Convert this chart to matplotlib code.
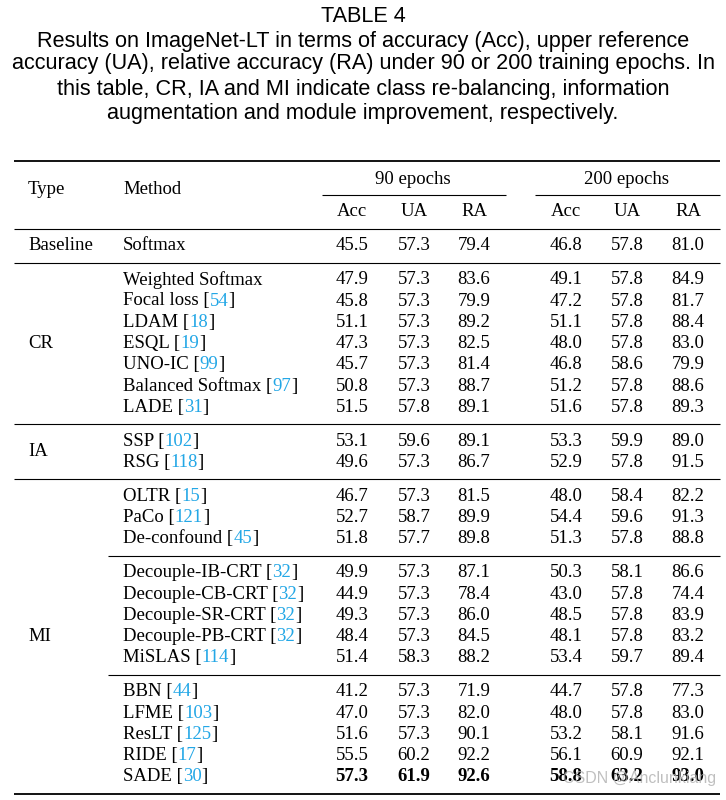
import matplotlib
matplotlib.use('Agg')
from matplotlib import pyplot as plt

# Table data (ImageNet-LT results)
caption = ["TABLE 4",
           "Results on ImageNet-LT in terms of accuracy (Acc), upper reference",
           "accuracy (UA), relative accuracy (RA) under 90 or 200 training epochs. In",
           "this table, CR, IA and MI indicate class re-balancing, information",
           "augmentation and module improvement, respectively."]

methods = ["Softmax",
           "Weighted Softmax", "Focal loss", "LDAM", "ESQL", "UNO-IC", "Balanced Softmax", "LADE",
           "SSP", "RSG",
           "OLTR", "PaCo", "De-confound",
           "Decouple-IB-CRT", "Decouple-CB-CRT", "Decouple-SR-CRT", "Decouple-PB-CRT", "MiSLAS",
           "BBN", "LFME", "ResLT", "RIDE", "SADE"]
refs = ["", "", "54", "18", "19", "99", "97", "31",
        "102", "118",
        "15", "121", "45",
        "32", "32", "32", "32", "114",
        "44", "103", "125", "17", "30"]
acc90 = [45.5, 47.9, 45.8, 51.1, 47.3, 45.7, 50.8, 51.5, 53.1, 49.6, 46.7, 52.7, 51.8,
         49.9, 44.9, 49.3, 48.4, 51.4, 41.2, 47.0, 51.6, 55.5, 57.3]
ua90 = [57.3, 57.3, 57.3, 57.3, 57.3, 57.3, 57.3, 57.8, 59.6, 57.3, 57.3, 58.7, 57.7,
        57.3, 57.3, 57.3, 57.3, 58.3, 57.3, 57.3, 57.3, 60.2, 61.9]
ra90 = [79.4, 83.6, 79.9, 89.2, 82.5, 81.4, 88.7, 89.1, 89.1, 86.7, 81.5, 89.9, 89.8,
        87.1, 78.4, 86.0, 84.5, 88.2, 71.9, 82.0, 90.1, 92.2, 92.6]
acc200 = [46.8, 49.1, 47.2, 51.1, 48.0, 46.8, 51.2, 51.6, 53.3, 52.9, 48.0, 54.4, 51.3,
          50.3, 43.0, 48.5, 48.1, 53.4, 44.7, 48.0, 53.2, 56.1, 58.8]
ua200 = [57.8, 57.8, 57.8, 57.8, 57.8, 58.6, 57.8, 57.8, 59.9, 57.8, 58.4, 59.6, 57.8,
         58.1, 57.8, 57.8, 57.8, 59.7, 57.8, 57.8, 58.1, 60.9, 63.2]
ra200 = [81.0, 84.9, 81.7, 88.4, 83.0, 79.9, 88.6, 89.3, 89.0, 91.5, 82.2, 91.3, 88.8,
         86.6, 74.4, 83.9, 83.2, 89.4, 77.3, 83.0, 91.6, 92.1, 93.0]
bold_rows = ["SADE"]

# groups: (type label, sub-block sizes)
groups = [("Baseline", [1]), ("CR", [7]), ("IA", [2]), ("MI", [3, 5, 5])]

serif = "Liberation Serif"
fs = 13.5
cite_color = "#23a7e6"

fig = plt.figure(figsize=(7.26, 8.0), dpi=100)
ax = fig.add_axes([0, 0, 1, 1])
ax.set_xlim(0, 726)
ax.set_ylim(800, 0)
ax.axis('off')
renderer = fig.canvas.get_renderer()

# caption
cap_y = [16, 41, 64, 89, 113]
for line, y in zip(caption, cap_y):
    ax.text(363, y, line, ha='center', va='center', fontsize=15.6,
            family="Liberation Sans")

x0, x1 = 14, 720
sub_x0 = 108
col_x = [352, 414, 474, 566, 627, 688]

def rule(y, xa=x0, xb=x1, lw=1.0):
    ax.plot([xa, xb], [y, y], color='black', lw=lw, solid_capstyle='butt')

# header
rule(161, lw=1.3)
ax.text(28, 189, "Type", fontsize=fs, family=serif, va='center')
ax.text(123, 189, "Method", fontsize=fs, family=serif, va='center')
ax.text(413, 180, "90 epochs", fontsize=fs, family=serif, va='center', ha='center')
ax.text(627, 180, "200 epochs", fontsize=fs, family=serif, va='center', ha='center')
rule(195, 322, 506, lw=0.8)
rule(195, 535, 720, lw=0.8)
for x, h in zip(col_x, ["Acc", "UA", "RA", "Acc", "UA", "RA"]):
    ax.text(x, 212, h, fontsize=fs, family=serif, va='center', ha='center')
rule(229, lw=0.8)

def method_text(x, y, name, ref):
    t = ax.text(x, y, name + (" [" if ref else ""), fontsize=fs, family=serif, va='center')
    if not ref:
        return
    x2 = x + t.get_window_extent(renderer).width
    t2 = ax.text(x2, y, ref, fontsize=fs, family=serif, va='center', color=cite_color)
    x3 = x2 + t2.get_window_extent(renderer).width
    ax.text(x3, y, "]", fontsize=fs, family=serif, va='center')

row_h = 21.3
pad = 16.9
y = 229
i = 0
for gi, (label, blocks) in enumerate(groups):
    ys_all = []
    for bi, n in enumerate(blocks):
        if bi > 0:
            rule(y, sub_x0, x1, lw=0.8)
        y += pad
        for k in range(n):
            ry = y + k * row_h
            ys_all.append(ry)
            method_text(123, ry, methods[i], refs[i])
            vals = [acc90[i], ua90[i], ra90[i], acc200[i], ua200[i], ra200[i]]
            w = 'bold' if methods[i] in bold_rows else 'normal'
            for x, v in zip(col_x, vals):
                ax.text(x, ry, "%.1f" % v, fontsize=fs, family=serif, va='center',
                        ha='center', fontweight=w)
            i += 1
        y = ys_all[-1] + pad
    ax.text(28, (ys_all[0] + ys_all[-1]) / 2, label, fontsize=fs, family=serif, va='center')
    if gi < len(groups) - 1:
        rule(y, lw=0.8)
rule(y, lw=1.3)

# watermark
ax.text(716, 778, "CSDN @Anclunkiang", fontsize=11.5, family="Liberation Sans",
        color='#b0b0b0', alpha=0.8, ha='right', va='center')

plt.savefig('out.png', dpi=100)
